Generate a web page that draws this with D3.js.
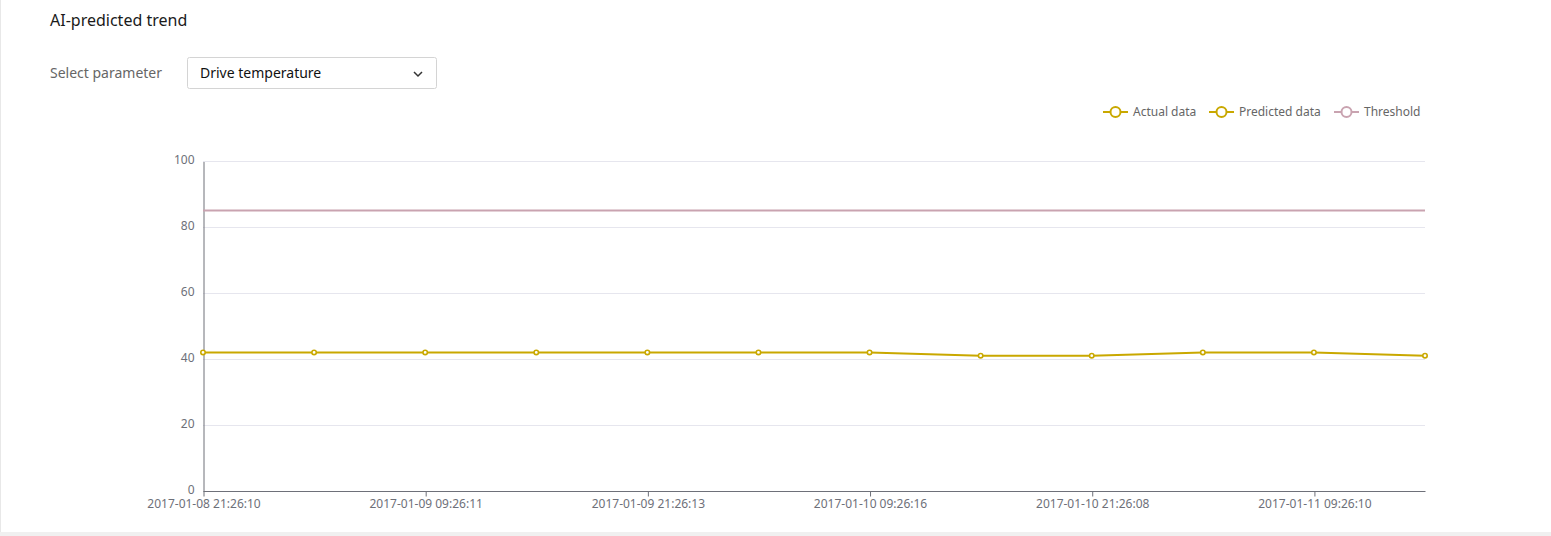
<!DOCTYPE html>
<html><head><meta charset="utf-8">
<script src="https://cdn.jsdelivr.net/npm/d3@7/dist/d3.min.js"></script>
<style>
html,body{margin:0;padding:0;background:#fff;width:1551px;height:536px;overflow:hidden;font-family:"Noto Sans","Open Sans",sans-serif;}
#page{position:absolute;left:0;top:0;width:1551px;height:532px;border-left:1px solid #e8e8e8;box-sizing:border-box;background:#fff;}
#band{position:absolute;left:0;top:532px;width:1551px;height:4px;background:#f0f0f0;}
svg{position:absolute;left:0;top:0;}
</style></head>
<body>
<div id="page"></div><div id="band"></div>
<svg id="chart" width="1551" height="532"></svg>
<script>
const categories = ["2017-01-08 21:26:10","2017-01-09 03:26:10","2017-01-09 09:26:11","2017-01-09 15:26:12","2017-01-09 21:26:13","2017-01-10 03:26:14","2017-01-10 09:26:16","2017-01-10 15:26:12","2017-01-10 21:26:08","2017-01-11 03:26:09","2017-01-11 09:26:10","2017-01-11 15:26:11"];
const actualData = [42,42,42,42,42,42,42,41,41,42,42,41];
const predictedData = [];
const thresholdValue = 85;
const yTicks = [0,20,40,60,80,100];
const legendItems = ["Actual data","Predicted data","Threshold"];

const svg = d3.select("#chart");
const font = '"Noto Sans","Open Sans",sans-serif';

// header
svg.append("text").attr("x",50).attr("y",26).attr("font-size",16).attr("fill","#1a1a1a").attr("font-family",font).text("AI-predicted trend");
svg.append("text").attr("x",50).attr("y",78).attr("font-size",14).attr("fill","#666").attr("font-family",font).text("Select parameter");
svg.append("rect").attr("x",187.5).attr("y",57.5).attr("width",249).attr("height",31).attr("rx",2).attr("fill","#fff").attr("stroke","#d4d4d4");
svg.append("text").attr("x",200).attr("y",78).attr("font-size",14).attr("fill","#111").attr("font-family",font).text("Drive temperature");
svg.append("path").attr("d","M414,72 L418,76 L422,72").attr("fill","none").attr("stroke","#333").attr("stroke-width",1.5);

const mLeft = 203, mRight = 1425, mTop = 161, mBottom = 491;
const x = d3.scalePoint().domain(categories).range([mLeft,mRight]);
const y = d3.scaleLinear().domain([0,100]).range([mBottom,mTop]);

const yellow = "#c9a800", pink = "#c9a3b0", axisCol = "#6e7079", labelCol = "#6e7079";

// grid
svg.append("g").selectAll("line").data(yTicks.filter(d=>d>0)).join("line")
  .attr("x1",mLeft).attr("x2",mRight).attr("y1",d=>Math.round(y(d))+0.5).attr("y2",d=>Math.round(y(d))+0.5)
  .attr("stroke","#e6e6ee").attr("stroke-width",1);

// y axis
const yAxis = d3.axisLeft(y).tickValues(yTicks).tickSize(0).tickPadding(9);
const gy = svg.append("g").attr("transform",`translate(${mLeft+0.5},0.5)`).call(yAxis);
gy.select(".domain").attr("stroke",axisCol);
gy.selectAll("text").attr("font-size",12).attr("fill",labelCol).attr("font-family",font).attr("y",-2);

// x axis
const shown = categories.filter((d,i)=>i%2===0);
const xAxis = d3.axisBottom(x).tickValues(shown).tickSize(5).tickSizeOuter(0).tickPadding(3);
const gx = svg.append("g").attr("transform",`translate(0.5,${mBottom+0.5})`).call(xAxis);
gx.select(".domain").attr("stroke",axisCol).attr("d",`M${mLeft},0H${mRight}`);
gx.selectAll(".tick line").attr("stroke",axisCol);
gx.selectAll("text").attr("font-size",12).attr("fill",labelCol).attr("font-family",font);

// threshold
svg.append("line").attr("x1",mLeft).attr("x2",mRight).attr("y1",y(thresholdValue)).attr("y2",y(thresholdValue))
  .attr("stroke",pink).attr("stroke-width",2);

// actual line
const line = d3.line().x((d,i)=>x(categories[i])).y(d=>y(d));
svg.append("path").datum(actualData).attr("d",line).attr("fill","none").attr("stroke",yellow).attr("stroke-width",2);
if (predictedData.length) svg.append("path").datum(predictedData).attr("d",line).attr("fill","none").attr("stroke",yellow).attr("stroke-width",2).attr("stroke-dasharray","4,3");
svg.append("g").selectAll("circle").data(actualData).join("circle")
  .attr("cx",(d,i)=>x(categories[i])).attr("cy",d=>y(d)).attr("r",2.2)
  .attr("fill","#fff").attr("stroke",yellow).attr("stroke-width",1.6);

// legend
const legendX = [1103,1209,1334];
const legendColors = [yellow,yellow,pink];
const lg = svg.append("g");
legendItems.forEach((name,i)=>{
  const g = lg.append("g").attr("transform",`translate(${legendX[i]},112)`);
  g.append("line").attr("x1",0).attr("x2",25).attr("y1",0).attr("y2",0).attr("stroke",legendColors[i]).attr("stroke-width",2)
    .attr("stroke-dasharray", i===1 ? "8,4,13,10" : null);
  g.append("circle").attr("cx",12.5).attr("cy",0).attr("r",5).attr("fill","#fff").attr("stroke",legendColors[i]).attr("stroke-width",2);
  g.append("text").attr("x",30).attr("y",4).attr("font-size",12).attr("fill","#666").attr("font-family",font).text(name);
});
</script>
</body></html>
